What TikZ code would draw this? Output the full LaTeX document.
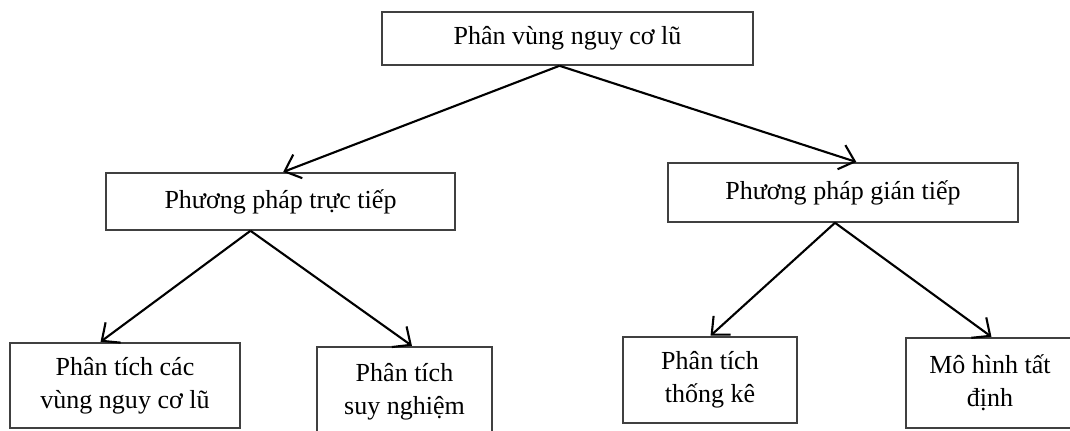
\documentclass[tikz,border=0pt]{standalone}
\usepackage{fontspec}
\setmainfont{Liberation Serif}
\usetikzlibrary{arrows.meta}

\tikzset{
    box/.style={draw=black!75, line width=1.1pt, fill=white, align=center, inner sep=2pt,
        font=\fontsize{18.5}{23.5}\selectfont},
    arr/.style={-{Straight Barb[length=10pt,width=18pt]}, line width=1.5pt, shorten >=0.5pt}
}

\begin{document}
\begin{tikzpicture}[x=0.025cm, y=-0.025cm]
    \useasboundingbox (0,0) rectangle (1070,431);
    % upper levels
    \node[box, minimum width=9.275cm, minimum height=1.325cm] (zone) at (567.5,38.5) {Phân vùng nguy cơ lũ};
    \node[box, minimum width=8.725cm, minimum height=1.425cm] (direct) at (280.5,201.5) {Phương pháp trực tiếp};
    \node[box, minimum width=8.75cm, minimum height=1.475cm] (indirect) at (843,192.5) {Phương pháp gián tiếp};
    % lower level
    \node[box, minimum width=5.75cm, minimum height=2.125cm] (zonean) at (125,385.5) {Phân tích các\\vùng nguy cơ lũ};
    \node[box, minimum width=4.375cm, minimum height=2.225cm] (heur) at (404.5,391.5) {Phân tích\\suy nghiệm};
    \node[box, minimum width=4.35cm, minimum height=2.15cm] (stat) at (710,380) {Phân tích\\thống kê};
    \node[box, minimum width=4.2cm, minimum height=2.25cm] (determ) at (990,383) {Mô hình tất\\định};
    % arrows
    \draw[arr] ([xshift=-0.2cm]zone.south) -- ([xshift=0.05cm]direct.north);
    \draw[arr] ([xshift=-0.2cm]zone.south) -- ([xshift=0.35cm]indirect.north);
    \draw[arr] ([xshift=-0.75cm]direct.south) -- ([xshift=-0.625cm]zonean.north);
    \draw[arr] ([xshift=-0.75cm]direct.south) -- ([xshift=0.2cm]heur.north);
    \draw[arr] ([xshift=-0.2cm]indirect.south) -- (stat.north);
    \draw[arr] ([xshift=-0.2cm]indirect.south) -- ([xshift=0.05cm]determ.north);
\end{tikzpicture}
\end{document}
